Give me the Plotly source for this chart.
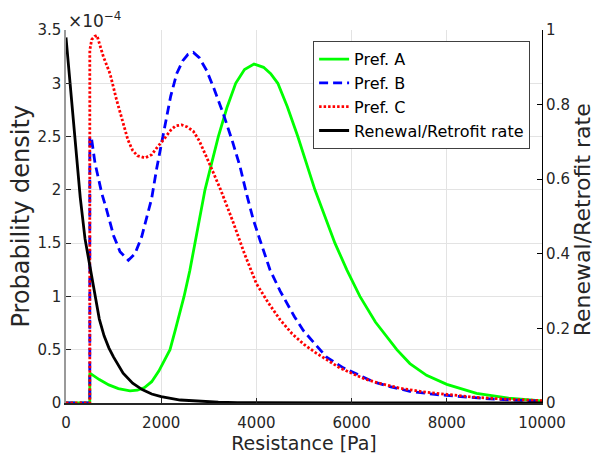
import plotly.graph_objects as go

# resistance [Pa] / probability density [x1e-4]
pref_a_x = [0, 500, 500, 700, 900, 1100, 1345, 1500, 1650, 1800, 1950, 2050, 2185, 2300, 2400, 2480,
            2600, 2710, 2820, 2920, 3060, 3200, 3380, 3565, 3750, 3950, 4150, 4300, 4450, 4650, 4870,
            5050, 5230, 5440, 5650, 5900, 6175, 6500, 6950, 7225, 7575, 8000, 8625, 9300, 10000]
pref_a_y = [0, 0, 0.28, 0.22, 0.17, 0.135, 0.113, 0.12, 0.145, 0.20, 0.30, 0.39, 0.50, 0.69, 0.86, 1.0,
            1.24, 1.5, 1.75, 2.0, 2.25, 2.5, 2.77, 3.0, 3.13, 3.18, 3.15, 3.09, 3.0, 2.78, 2.5,
            2.25, 2.0, 1.75, 1.5, 1.25, 1.0, 0.76, 0.5, 0.37, 0.26, 0.175, 0.09, 0.045, 0.02]

pref_b_x = [0, 500, 500, 540, 610, 750, 855, 1000, 1135, 1310, 1450, 1590, 1695, 1800, 1905, 2000,
            2115, 2200, 2325, 2450, 2560, 2675, 2800, 2955, 3100, 3300, 3500, 3655, 3800, 3935, 4075,
            4285, 4500, 4635, 4800, 4985, 5250, 5475, 5825, 6105, 6455, 6750, 7225, 7750, 8275, 8800,
            9400, 10000]
pref_b_y = [0, 0, 2.50, 2.47, 2.25, 1.97, 1.81, 1.57, 1.42, 1.34, 1.40, 1.56, 1.74, 1.92, 2.20, 2.42,
            2.72, 2.88, 3.09, 3.21, 3.27, 3.29, 3.24, 3.12, 2.96, 2.72, 2.45, 2.22, 1.95, 1.72, 1.53,
            1.25, 1.05, 0.94, 0.81, 0.68, 0.54, 0.43, 0.33, 0.27, 0.20, 0.16, 0.11, 0.08, 0.06, 0.042,
            0.028, 0.018]

pref_c_x = [0, 500, 500, 540, 600, 650, 785, 925, 1065, 1200, 1300, 1400, 1500, 1660, 1800, 1900,
            2000, 2100, 2200, 2300, 2430, 2550, 2675, 2800, 3000, 3250, 3500, 3750, 4000, 4250, 4500,
            4750, 5000, 5250, 5500, 5750, 6000, 6250, 6500, 6750, 7000, 7500, 8000, 8500, 9000, 9500,
            10000]
pref_c_y = [0, 0, 3.31, 3.41, 3.44, 3.45, 3.25, 3.09, 2.84, 2.62, 2.47, 2.37, 2.32, 2.30, 2.33, 2.39,
            2.44, 2.50, 2.56, 2.60, 2.61, 2.59, 2.55, 2.46, 2.26, 2.0, 1.71, 1.40, 1.12, 0.94, 0.78,
            0.65, 0.55, 0.47, 0.40, 0.33, 0.28, 0.23, 0.195, 0.165, 0.14, 0.105, 0.078, 0.057, 0.042,
            0.03, 0.022]

# renewal/retrofit rate (right axis)
rate_x = [0, 100, 200, 300, 400, 500, 600, 700, 800, 900, 1000, 1200, 1400, 1600, 1800, 2000,
          2400, 2800, 3200, 3600, 4000, 5000, 6000, 8000, 10000]
rate_y = [0.98, 0.83, 0.69, 0.55, 0.44, 0.365, 0.29, 0.225, 0.18, 0.148, 0.123, 0.08, 0.053, 0.036,
          0.024, 0.017, 0.008, 0.004, 0.002, 0.001, 0.0005, 0, 0, 0, 0]

font = "DejaVu Sans"
txt = "#262626"

fig = go.Figure()
fig.add_trace(go.Scatter(x=pref_a_x, y=pref_a_y, name="Pref. A", mode="lines",
                         line=dict(color="#00ff00", width=2.8)))
fig.add_trace(go.Scatter(x=pref_b_x, y=pref_b_y, name="Pref. B", mode="lines",
                         line=dict(color="#0000ff", width=2.8, dash="9px,5px")))
fig.add_trace(go.Scatter(x=pref_c_x, y=pref_c_y, name="Pref. C", mode="lines",
                         line=dict(color="#ff0000", width=2.8, dash="2.5px,2px")))
fig.add_trace(go.Scatter(x=rate_x, y=rate_y, name="Renewal/Retrofit rate", mode="lines",
                         yaxis="y2", line=dict(color="#000000", width=2.8)))

# page body has an 8px margin, so the figure is 8px smaller than the window
fig.update_layout(
    width=592, height=454,
    margin=dict(l=58, r=58, t=22, b=59),
    paper_bgcolor="white", plot_bgcolor="white",
    font=dict(family=font, size=15, color=txt),
    xaxis=dict(range=[0, 10000], dtick=2000, tickformat="d", ticks="inside", ticklen=5,
               tickcolor=txt, showline=True, linecolor=txt, linewidth=1.5, showgrid=True,
               gridcolor="#e3e3e3", zeroline=False, ticklabelstandoff=5,
               title=dict(text="Resistance [Pa]", font=dict(size=19), standoff=2)),
    yaxis=dict(range=[0, 3.5], dtick=0.5, ticks="inside", ticklen=5, tickcolor=txt,
               showline=True, linecolor="#9a9a9a", linewidth=1.5, showgrid=True,
               gridcolor="#e3e3e3", zeroline=False),
    yaxis2=dict(range=[0, 1], dtick=0.2, overlaying="y", side="right", ticks="inside",
                ticklen=5, tickcolor="#000000", showline=True, linecolor="#000000",
                linewidth=1.2, showgrid=False, zeroline=False),
    legend=dict(x=0.975, y=0.97, xanchor="right", yanchor="top", bgcolor="white",
                bordercolor="#404040", borderwidth=1, font=dict(size=16, color="#000000"),
                tracegroupgap=0),
    showlegend=True,
)

# y-axis titles placed by hand
fig.add_annotation(text="Probability density", xref="paper", yref="paper", x=0, y=0.5,
                   xanchor="center", yanchor="middle", textangle=-90, xshift=-46,
                   showarrow=False, font=dict(size=24, color=txt))
fig.add_annotation(text="Renewal/Retrofit rate", xref="paper", yref="paper", x=1, y=0.49,
                   xanchor="center", yanchor="middle", textangle=-90, xshift=40,
                   showarrow=False, font=dict(size=22, color=txt))
fig.add_annotation(text="×10<sup>−4</sup>", xref="paper", yref="paper", x=0, y=1,
                   xanchor="left", yanchor="bottom", showarrow=False,
                   font=dict(size=17, color=txt), yshift=-3)

fig.write_html("out.html")
